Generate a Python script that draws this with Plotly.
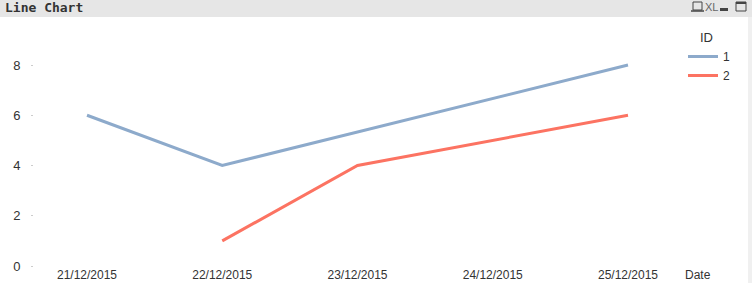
import plotly.graph_objects as go

categories = ["21/12/2015", "22/12/2015", "23/12/2015", "24/12/2015", "25/12/2015"]
s1_dates = ["21/12/2015", "22/12/2015", "25/12/2015"]
s1_values = [6, 4, 8]
s2_dates = ["22/12/2015", "23/12/2015", "25/12/2015"]
s2_values = [1, 4, 6]
y_ticks = [0, 2, 4, 6, 8]

W, H = 752, 283
L, R = 34, 670      # plot area left/right pixels
T, B = 27, 266      # plot area top/bottom pixels
step = 135.25
first_px = 87
r0 = -(first_px - L) / step
r1 = (R - first_px) / step
ymax = (B - T) / ((B - 65) / 8)

def px(x):
    return (x - L) / (R - L)

def py(y):
    return (B - y) / (B - T)

fig = go.Figure()
fig.add_trace(go.Scatter(x=s1_dates, y=s1_values, mode="lines", name="1",
                         line=dict(color="#8DAACB", width=3)))
fig.add_trace(go.Scatter(x=s2_dates, y=s2_values, mode="lines", name="2",
                         line=dict(color="#FC7362", width=3)))

font = "Liberation Sans, Arial, sans-serif"
shapes = [
    dict(type="rect", xref="paper", yref="paper", x0=px(0), x1=px(W), y0=py(17), y1=py(0),
         fillcolor="#E6E6E6", line=dict(width=0), layer="below"),
    dict(type="rect", xref="paper", yref="paper", x0=px(748), x1=px(W), y0=py(H), y1=py(17),
         fillcolor="#F0F0F0", line=dict(width=0), layer="below"),
    dict(type="rect", xref="paper", yref="paper", x0=px(736), x1=px(746), y0=py(11), y1=py(2),
         fillcolor="rgba(0,0,0,0)", line=dict(color="#444", width=1)),
    dict(type="rect", xref="paper", yref="paper", x0=px(736), x1=px(746), y0=py(4), y1=py(2),
         fillcolor="#444", line=dict(width=0)),
    dict(type="rect", xref="paper", yref="paper", x0=px(720), x1=px(728), y0=py(11), y1=py(8),
         fillcolor="#444", line=dict(width=0)),
    dict(type="rect", xref="paper", yref="paper", x0=px(693), x1=px(702), y0=py(10), y1=py(2),
         fillcolor="rgba(0,0,0,0)", line=dict(color="#444", width=1)),
    dict(type="line", xref="paper", yref="paper", x0=px(691), x1=px(704), y0=py(11), y1=py(11),
         line=dict(color="#444", width=1.5)),
]

annotations = [
    dict(text="<b>Line Chart</b>", x=px(3), y=py(8), xref="paper", yref="paper",
         xanchor="left", yanchor="middle", showarrow=False,
         font=dict(family="DejaVu Sans Mono, monospace", size=13, color="#333")),
    dict(text="XL", x=px(711), y=py(7), xref="paper", yref="paper",
         xanchor="center", yanchor="middle", showarrow=False,
         font=dict(family=font, size=11, color="#666")),
    dict(text="Date", x=px(698), y=py(275), xref="paper", yref="paper",
         xanchor="center", yanchor="middle", showarrow=False,
         font=dict(family=font, size=12, color="#333")),
    dict(text="ID", x=px(706), y=py(37), xref="paper", yref="paper",
         xanchor="center", yanchor="middle", showarrow=False,
         font=dict(family=font, size=13, color="#333")),
]

fig.update_layout(
    width=W, height=H,
    margin=dict(l=L, r=W - R, t=T, b=H - B, pad=0, autoexpand=False),
    paper_bgcolor="white", plot_bgcolor="white",
    shapes=shapes, annotations=annotations,
    showlegend=True,
    legend=dict(x=px(683), y=py(42), xref="paper", yref="paper", xanchor="left", yanchor="top",
                font=dict(family=font, size=12, color="#333"),
                itemwidth=30, tracegroupgap=0, bgcolor="rgba(0,0,0,0)"),
    xaxis=dict(type="category", categoryorder="array", categoryarray=categories,
               range=[r0, r1], showgrid=False, zeroline=False, showline=False,
               ticks="", ticklabelstandoff=0,
               tickfont=dict(family=font, size=12, color="#333")),
    yaxis=dict(range=[0, ymax], tickvals=y_ticks, showgrid=False, zeroline=False,
               showline=False, ticks="outside", ticklen=2, tickcolor="#ccc",
               ticklabelstandoff=8,
               tickfont=dict(family=font, size=13, color="#333")),
)

fig.write_html("out.html")
